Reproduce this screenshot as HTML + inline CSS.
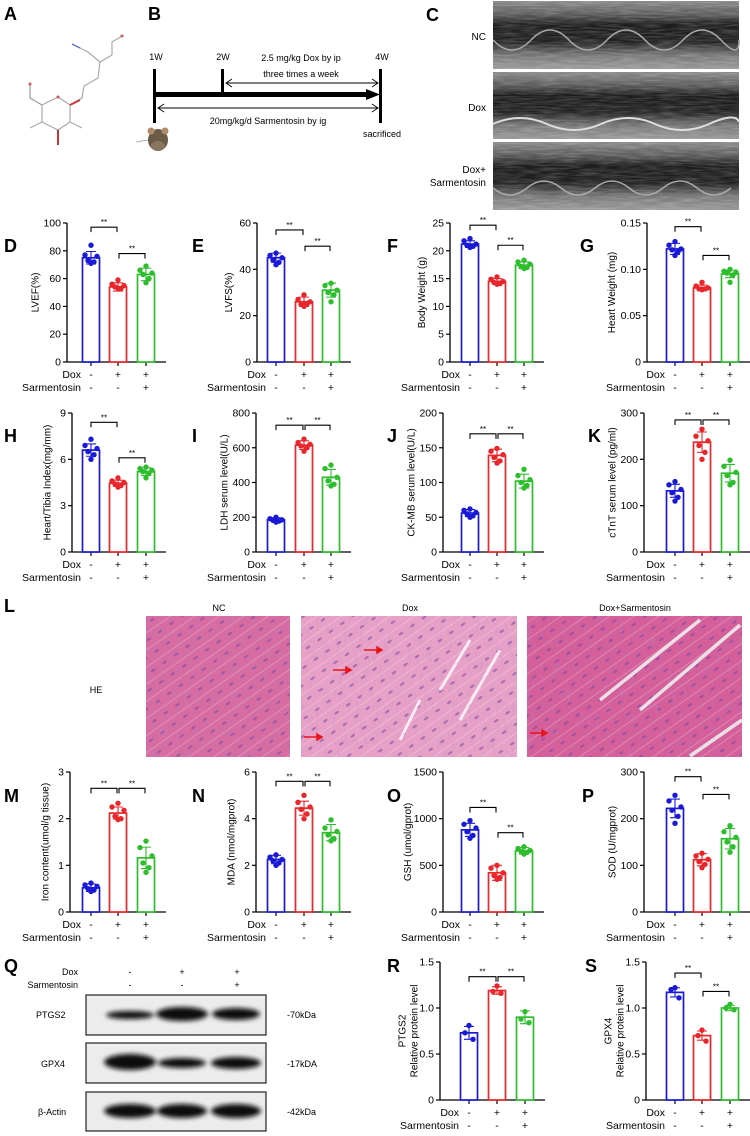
<!DOCTYPE html>
<html><head><meta charset="utf-8">
<style>
html,body{margin:0;padding:0;background:#fff;}
svg{display:block;font-family:"Liberation Sans",Arial,sans-serif;}
</style></head>
<body>
<svg id="fig" width="750" height="1136" viewBox="0 0 750 1136" xmlns="http://www.w3.org/2000/svg">
<defs>
  <linearGradient id="echoG" x1="0" y1="0" x2="0" y2="1">
    <stop offset="0" stop-color="#8a8a8a"/><stop offset="0.2" stop-color="#5a5a5a"/>
    <stop offset="0.35" stop-color="#1c1c1c"/><stop offset="0.6" stop-color="#222"/>
    <stop offset="0.8" stop-color="#777"/><stop offset="1" stop-color="#999"/>
  </linearGradient>
  <filter id="echoNoise" x="0" y="0" width="100%" height="100%">
    <feTurbulence type="fractalNoise" baseFrequency="0.05 0.6" numOctaves="2" seed="3"/>
    <feColorMatrix type="matrix" values="0 0 0 0 1  0 0 0 0 1  0 0 0 0 1  0.9 0 0 0 -0.3"/>
  </filter>
  <filter id="heNoise" x="0" y="0" width="100%" height="100%">
    <feTurbulence type="fractalNoise" baseFrequency="0.25 0.08" numOctaves="2" seed="7"/>
    <feColorMatrix type="matrix" values="0 0 0 0 0.45  0 0 0 0 0.25  0 0 0 0 0.6  1.6 0 0 0 -0.85"/>
  </filter>
  <pattern id="fibers" width="14" height="14" patternUnits="userSpaceOnUse" patternTransform="rotate(-35)">
    <rect width="14" height="1" fill="rgba(255,255,255,0.25)"/>
    <ellipse cx="7" cy="7" rx="2.6" ry="1.1" fill="#7a4aa0" opacity="0.6"/>
  </pattern>
  <filter id="blur2"><feGaussianBlur stdDeviation="2.5"/></filter>
</defs>

<!-- Panel letters -->
<g font-weight="bold" font-size="18" fill="#000">
  <text x="4" y="20">A</text>
  <text x="148" y="20">B</text>
  <text x="426" y="21">C</text>
  <text x="4" y="252">D</text>
  <text x="192" y="252">E</text>
  <text x="387" y="252">F</text>
  <text x="580" y="252">G</text>
  <text x="4" y="442">H</text>
  <text x="192" y="442">I</text>
  <text x="387" y="442">J</text>
  <text x="588" y="442">K</text>
  <text x="4" y="612">L</text>
  <text x="4" y="802">M</text>
  <text x="192" y="802">N</text>
  <text x="387" y="802">O</text>
  <text x="582" y="802">P</text>
  <text x="4" y="972">Q</text>
  <text x="387" y="972">R</text>
  <text x="585" y="972">S</text>
</g>

<!-- A: chemical structure -->
<g stroke-width="1.2" fill="none">
  <path d="M42 105 L58 97 L70 105 L70 122 L58 130 L42 122 Z" stroke="#aaa"/>
  <path d="M42 105 L30 98 L30 85" stroke="#999"/>
  <path d="M70 105 L82 98 L84 86 L98 78 L100 62 L112 55" stroke="#aaa"/>
  <path d="M100 62 L88 52 L80 48" stroke="#aaa"/>
  <path d="M80 48 L72 44" stroke="#6670c8" stroke-width="1.4"/>
  <path d="M112 55 L112 42 L122 36" stroke="#aaa"/>
  <path d="M70 122 L82 128" stroke="#aaa"/>
  <path d="M58 130 L58 145" stroke="#c33" stroke-width="2"/>
  <path d="M42 122 L30 128" stroke="#aaa"/>
  <path d="M70 105 L80 100" stroke="#c33" stroke-width="2"/>
  <circle cx="58" cy="97" r="1.5" fill="#d55" stroke="none"/>
  <circle cx="30" cy="84" r="1.5" fill="#d55" stroke="none"/>
  <circle cx="122" cy="36" r="1.5" fill="#d55" stroke="none"/>
</g>

<!-- B: timeline -->
<g font-size="9" fill="#000">
  <text x="156" y="60" text-anchor="middle">1W</text>
  <text x="223" y="60" text-anchor="middle">2W</text>
  <text x="382" y="60" text-anchor="middle">4W</text>
  <text x="301" y="61" text-anchor="middle">2.5 mg/kg Dox by ip</text>
  <text x="301" y="77" text-anchor="middle">three times a week</text>
  <text x="268" y="124" text-anchor="middle">20mg/kg/d Sarmentosin by ig</text>
  <text x="382" y="137" text-anchor="middle">sacrificed</text>
  <rect x="153" y="69" width="3" height="54" fill="#000"/>
  <rect x="221" y="69" width="3" height="24" fill="#000"/>
  <rect x="379" y="69" width="3" height="54" fill="#000"/>
  <rect x="156" y="92" width="212" height="5" fill="#000"/>
  <path d="M366 89 L380 94.5 L366 100 Z" fill="#000"/>
  <g stroke="#000" stroke-width="0.9" fill="none">
    <line x1="226" y1="83" x2="378" y2="83"/><path d="M232 79 L226 83 L232 87"/><path d="M372 79 L378 83 L372 87"/>
    <line x1="158" y1="108" x2="378" y2="108"/><path d="M164 104 L158 108 L164 112"/><path d="M372 104 L378 108 L372 112"/>
  </g>
  <g>
    <ellipse cx="158" cy="140" rx="10" ry="11" fill="#6b5a45"/>
    <circle cx="151" cy="131" r="3.5" fill="#b08a6a"/><circle cx="165" cy="131" r="3.5" fill="#b08a6a"/>
    <ellipse cx="158" cy="146" rx="7" ry="5" fill="#8a7560"/>
    <line x1="148" y1="140" x2="136" y2="142" stroke="#999" stroke-width="0.8"/>
  </g>
</g>

<!-- C: echo images -->
<g>
  <g font-size="10" fill="#000" text-anchor="end">
    <text x="486" y="40">NC</text>
    <text x="486" y="111">Dox</text>
    <text x="486" y="173">Dox+</text>
    <text x="486" y="186">Sarmentosin</text>
  </g>
  <g>
    <rect x="493" y="1" width="246" height="68" fill="url(#echoG)"/>
    <rect x="493" y="1" width="246" height="68" filter="url(#echoNoise)" opacity="0.45"/>
    <path d="M493 40 Q512 60 531 40 T569 40 T607 40 T645 40 T683 40 T721 40 T739 40" stroke="#aaa" stroke-width="1.5" fill="none"/>
  </g>
  <g>
    <rect x="493" y="72" width="246" height="67" fill="url(#echoG)"/>
    <rect x="493" y="72" width="246" height="67" filter="url(#echoNoise)" opacity="0.45"/>
    <path d="M493 124 Q520 112 547 124 T601 124 T655 124 T709 124 T739 122" stroke="#ddd" stroke-width="2" fill="none"/>
  </g>
  <g>
    <rect x="493" y="142" width="246" height="68" fill="url(#echoG)"/>
    <rect x="493" y="142" width="246" height="68" filter="url(#echoNoise)" opacity="0.45"/>
    <path d="M493 188 Q510 202 527 188 T561 188 T595 188 T629 188 T663 188 T697 188 T731 188" stroke="#aaa" stroke-width="1.5" fill="none"/>
  </g>
</g>

<!-- L: HE histology -->
<g>
  <g font-size="9" fill="#000" text-anchor="middle">
    <text x="219" y="611">NC</text>
    <text x="410" y="611">Dox</text>
    <text x="635" y="611">Dox+Sarmentosin</text>
    <text x="96" y="693">HE</text>
  </g>
  <g>
    <rect x="146" y="616" width="144" height="141" fill="#d66ca2"/>
    <rect x="146" y="616" width="144" height="141" fill="url(#fibers)"/>
    <rect x="146" y="616" width="144" height="141" filter="url(#heNoise)" opacity="0.5"/>
  </g>
  <g>
    <rect x="301" y="616" width="216" height="141" fill="#e7a0c6"/>
    <rect x="301" y="616" width="216" height="141" fill="url(#fibers)"/>
    <rect x="301" y="616" width="216" height="141" filter="url(#heNoise)" opacity="0.4"/>
    <path d="M470 640 L440 690 M500 650 L460 720 M420 700 L400 740" stroke="#fff" stroke-width="3" opacity="0.8"/>
  </g>
  <g>
    <rect x="527" y="616" width="215" height="141" fill="#d45f9a"/>
    <rect x="527" y="616" width="215" height="141" fill="url(#fibers)"/>
    <rect x="527" y="616" width="215" height="141" filter="url(#heNoise)" opacity="0.5"/>
    <path d="M740 625 L640 710 M700 620 L600 700 M742 720 L690 756" stroke="#eee" stroke-width="3.5" opacity="0.9"/>
  </g>
  <g stroke="#e8141c" stroke-width="1.5" fill="#e8141c">
    <line x1="364" y1="650" x2="377" y2="650"/><path d="M377 647 L382 650 L377 653Z"/>
    <line x1="333" y1="670" x2="346" y2="670"/><path d="M346 667 L351 670 L346 673Z"/>
    <line x1="304" y1="737" x2="317" y2="737"/><path d="M317 734 L322 737 L317 740Z"/>
    <line x1="530" y1="733" x2="542" y2="733"/><path d="M542 730 L547 733 L542 736Z"/>
  </g>
</g>

<!-- Q: western blot -->
<g font-size="9" fill="#000">
  <text x="78" y="975" text-anchor="end">Dox</text>
  <text x="78" y="988" text-anchor="end">Sarmentosin</text>
  <text x="130" y="975" text-anchor="middle">-</text><text x="182" y="975" text-anchor="middle">+</text><text x="237" y="975" text-anchor="middle">+</text>
  <text x="130" y="988" text-anchor="middle">-</text><text x="182" y="988" text-anchor="middle">-</text><text x="237" y="988" text-anchor="middle">+</text>
  <text x="36" y="1018">PTGS2</text>
  <text x="41" y="1067">GPX4</text>
  <text x="38" y="1115">β-Actin</text>
  <text x="287" y="1018">-70kDa</text>
  <text x="287" y="1067">-17kDA</text>
  <text x="287" y="1115">-42kDa</text>
  <g stroke="#222" stroke-width="1.2" fill="#ececec">
    <rect x="86" y="995" width="180" height="40"/>
    <rect x="86" y="1043" width="180" height="40"/>
    <rect x="86" y="1092" width="180" height="39"/>
  </g>
  <g fill="#111" filter="url(#blur2)">
    <ellipse cx="130" cy="1015" rx="24" ry="4"/>
    <ellipse cx="182" cy="1014" rx="26" ry="7"/>
    <ellipse cx="236" cy="1014" rx="24" ry="6"/>
    <ellipse cx="130" cy="1062" rx="26" ry="8"/>
    <ellipse cx="182" cy="1063" rx="24" ry="5"/>
    <ellipse cx="236" cy="1063" rx="25" ry="6"/>
    <ellipse cx="130" cy="1111" rx="26" ry="7"/>
    <ellipse cx="182" cy="1111" rx="25" ry="7"/>
    <ellipse cx="236" cy="1111" rx="25" ry="7"/>
  </g>
</g>

<g id="charts"></g>
</svg>

<script>
// ---- chart data ----
const groups = ['NC', 'Dox', 'Dox+Sarmentosin'];
const doxSigns = ['-', '+', '+'];
const sarmSigns = ['-', '-', '+'];

const lvefMeans = [75, 54, 63];
const lvefSd = [4.5, 3, 4.5];
const lvefPts = [[84, 77, 76, 73, 72, 71], [59, 56, 55, 54, 53, 53], [69, 66, 64, 63, 60, 57]];
const lvefTicks = ['0', '20', '40', '60', '80', '100'];

const lvfsMeans = [45, 26, 31];
const lvfsSd = [2, 2, 3];
const lvfsPts = [[47, 46, 45, 44, 43, 42], [29, 27, 26, 25, 25, 24], [34, 33, 31, 30, 29, 26]];
const lvfsTicks = ['0', '20', '40', '60'];

const bwMeans = [21.2, 14.5, 17.4];
const bwSd = [0.6, 0.5, 0.6];
const bwPts = [[22.2, 21.8, 21.2, 21.0, 20.8, 20.6], [15.3, 14.9, 14.5, 14.3, 14.1, 14.0], [18.3, 18.0, 17.6, 17.2, 17.0, 16.8]];
const bwTicks = ['0', '5', '10', '15', '20', '25'];

const hwMeans = [0.122, 0.080, 0.095];
const hwSd = [0.006, 0.003, 0.004];
const hwPts = [[0.130, 0.126, 0.122, 0.121, 0.119, 0.115], [0.086, 0.082, 0.080, 0.079, 0.079, 0.078], [0.100, 0.098, 0.097, 0.096, 0.094, 0.086]];
const hwTicks = ['0', '0.05', '0.10', '0.15'];

const htiMeans = [6.6, 4.45, 5.2];
const htiSd = [0.4, 0.2, 0.25];
const htiPts = [[7.3, 6.9, 6.7, 6.5, 6.3, 6.0], [4.8, 4.6, 4.5, 4.4, 4.3, 4.2], [5.5, 5.4, 5.3, 5.2, 5.1, 4.8]];
const htiTicks = ['0', '3', '6', '9'];

const ldhMeans = [185, 615, 430];
const ldhSd = [12, 25, 45];
const ldhPts = [[200, 192, 185, 182, 178, 172], [650, 630, 620, 610, 600, 580], [500, 480, 430, 410, 390, 380]];
const ldhTicks = ['0', '200', '400', '600', '800'];

const ckMeans = [56, 139, 102];
const ckSd = [5, 9, 10];
const ckPts = [[62, 60, 57, 55, 52, 50], [149, 145, 140, 136, 131, 128], [119, 110, 104, 100, 96, 92]];
const ckTicks = ['0', '50', '100', '150', '200'];

const ctntMeans = [132, 237, 170];
const ctntSd = [14, 22, 19];
const ctntPts = [[152, 145, 135, 128, 118, 110], [265, 250, 240, 230, 215, 200], [198, 185, 172, 165, 150, 145]];
const ctntTicks = ['0', '100', '200', '300'];

const ironMeans = [0.52, 2.12, 1.16];
const ironSd = [0.08, 0.13, 0.23];
const ironPts = [[0.62, 0.58, 0.55, 0.50, 0.47, 0.44], [2.33, 2.25, 2.18, 2.05, 2.00, 1.98], [1.52, 1.38, 1.20, 1.05, 0.95, 0.85]];
const ironTicks = ['0', '1', '2', '3'];

const mdaMeans = [2.25, 4.45, 3.4];
const mdaSd = [0.18, 0.3, 0.35];
const mdaPts = [[2.45, 2.35, 2.25, 2.20, 2.10, 2.00], [5.0, 4.7, 4.5, 4.4, 4.2, 4.0], [3.95, 3.6, 3.45, 3.3, 3.15, 3.05]];
const mdaTicks = ['0', '2', '4', '6'];

const gshMeans = [880, 420, 655];
const gshSd = [70, 80, 35];
const gshPts = [[980, 940, 900, 860, 820, 790], [500, 470, 420, 390, 370, 350], [700, 680, 660, 650, 640, 620]];
const gshTicks = ['0', '500', '1000', '1500'];

const sodMeans = [222, 112, 157];
const sodSd = [20, 13, 22];
const sodPts = [[250, 238, 225, 218, 205, 190], [126, 120, 113, 108, 102, 95], [185, 172, 160, 150, 140, 128]];
const sodTicks = ['0', '100', '200', '300'];

const ptgsMeans = [0.73, 1.19, 0.90];
const ptgsSd = [0.07, 0.04, 0.07];
const ptgsPts = [[0.81, 0.73, 0.66], [1.24, 1.18, 1.16], [0.96, 0.88, 0.84]];
const ptgsTicks = ['0', '0.5', '1.0', '1.5'];

const gpxMeans = [1.17, 0.70, 1.00];
const gpxSd = [0.05, 0.05, 0.03];
const gpxPts = [[1.22, 1.20, 1.11], [0.76, 0.70, 0.64], [1.04, 1.00, 0.98]];
const gpxTicks = ['0', '0.5', '1.0', '1.5'];

// significance brackets: [groupA, groupB, level]
const lvefSig = [[0, 1, 97], [1, 2, 78]];
const lvfsSig = [[0, 1, 57], [1, 2, 50]];
const bwSig = [[0, 1, 24.6], [1, 2, 21]];
const hwSig = [[0, 1, 0.146], [1, 2, 0.115]];
const htiSig = [[0, 1, 8.4], [1, 2, 6.1]];
const ldhSig = [[0, 1, 730], [1, 2, 730]];
const ckSig = [[0, 1, 170], [1, 2, 170]];
const ctntSig = [[0, 1, 285], [1, 2, 285]];
const ironSig = [[0, 1, 2.65], [1, 2, 2.65]];
const mdaSig = [[0, 1, 5.6], [1, 2, 5.6]];
const gshSig = [[0, 1, 1120], [1, 2, 850]];
const sodSig = [[0, 1, 290], [1, 2, 252]];
const ptgsSig = [[0, 1, 1.34], [1, 2, 1.34]];
const gpxSig = [[0, 1, 1.38], [1, 2, 1.18]];

const colors = ['#1a1ad6', '#e8262b', '#2dbd2d'];
const NS = 'http://www.w3.org/2000/svg';
const root = document.getElementById('charts');

function mk(tag, attrs, parent, text) {
  const e = document.createElementNS(NS, tag);
  for (const k in attrs) e.setAttribute(k, attrs[k]);
  if (text !== undefined) e.textContent = text;
  (parent || root).appendChild(e);
  return e;
}

function chart(name, yTitle, means, sd, pts, ticks, sig, ax, bars, top, bottom) {
  const g = mk('g', {});
  
  
  const ymax = parseFloat(ticks[ticks.length - 1]);
  const y = v => bottom - (v / ymax) * (bottom - top);
  const xEnd = bars[2] + 20;
  const yAxis = mk('line', {x1: ax, y1: top, x2: ax, y2: bottom + 0.5, stroke: '#000', 'stroke-width': 1.3}, g);
  
  
  const xAxis = mk('line', {x1: ax, y1: bottom, x2: xEnd, y2: bottom, stroke: '#000', 'stroke-width': 1.3}, g);
  
  
  let maxChars = 0;
  ticks.forEach(t => {
    maxChars = Math.max(maxChars, t.length);
    const ty = y(parseFloat(t));
    mk('line', {x1: ax - 4, y1: ty, x2: ax, y2: ty, stroke: '#000', 'stroke-width': 1.2}, g);
    const tl = mk('text', {x: ax - 6, y: ty + 3.5, 'font-size': 10.5, 'text-anchor': 'end'}, g, t);
    
    
  });
  const tx = ax - 18 - maxChars * 3.5;
  const yt = mk('text', {x: 0, y: 0, 'font-size': 10, 'text-anchor': 'middle',
    transform: `translate(${tx},${(top + bottom) / 2}) rotate(-90)`}, g, '');
  
  
  const lines = yTitle.split('\n');
  lines.forEach((l, i) => {
    mk('tspan', {x: 0, dy: i === 0 ? -(lines.length - 1) * 6 : 12}, yt, l);
  });
  means.forEach((m, i) => {
    const cx = bars[i], c = colors[i], w = 17;
    mk('line', {x1: cx, y1: bottom, x2: cx, y2: bottom + 4, stroke: '#000', 'stroke-width': 1.2}, g);
    const b = mk('rect', {x: cx - w / 2, y: y(m), width: w, height: bottom - y(m), fill: '#fff', stroke: c, 'stroke-width': 1.7}, g);
    
    
    const eb = mk('path', {d: `M${cx} ${y(m + sd[i])} V${y(m - sd[i])} M${cx - 5} ${y(m + sd[i])} H${cx + 5} M${cx - 5} ${y(m - sd[i])} H${cx + 5}`,
      stroke: c, 'stroke-width': 1.1, fill: 'none'}, g);
    
    
    const n = pts[i].length;
    pts[i].forEach((v, j) => {
      const off = n === 3 ? [0, -4, 4][j] : [0, -6, 6, -3, 3, 0][j];
      const p = mk('circle', {cx: cx + off, cy: y(v), r: 2.7, fill: c}, g);
      
      
    });
    const d1 = mk('text', {x: cx, y: bottom + 16, 'font-size': 10.5, 'text-anchor': 'middle'}, g, doxSigns[i]);
    
    
    const s1 = mk('text', {x: cx, y: bottom + 29, 'font-size': 10.5, 'text-anchor': 'middle'}, g, sarmSigns[i]);
    
    
  });
  const dl = mk('text', {x: bars[0] - 10, y: bottom + 16, 'font-size': 10.5, 'text-anchor': 'end'}, g, 'Dox');
  
  
  const sl = mk('text', {x: bars[0] - 10, y: bottom + 29, 'font-size': 10.5, 'text-anchor': 'end'}, g, 'Sarmentosin');
  
  
  sig.forEach(s => {
    const x1 = bars[s[0]] + (s[0] === 0 ? 0 : 1), x2 = bars[s[1]] - 1, sy = y(s[2]);
    const br = mk('path', {d: `M${x1} ${sy + 5} V${sy} H${x2} V${sy + 5}`, stroke: '#000', 'stroke-width': 1.1, fill: 'none'}, g);
    
    
    const st = mk('text', {x: (x1 + x2) / 2, y: sy - 2, 'font-size': 8, 'text-anchor': 'middle'}, g, '**');
    
    
  });
}

const c1 = [91, 118, 146], c2 = [276, 304, 331], c3 = [470, 497, 524], c4 = [675, 702, 730];
chart('chart-lvef', 'LVEF(%)', lvefMeans, lvefSd, lvefPts, lvefTicks, lvefSig, 67, c1, 223, 362);
chart('chart-lvfs', 'LVFS(%)', lvfsMeans, lvfsSd, lvfsPts, lvfsTicks, lvfsSig, 257, c2, 223, 362);
chart('chart-body-weight', 'Body Weight (g)', bwMeans, bwSd, bwPts, bwTicks, bwSig, 450, c3, 223, 362);
chart('chart-heart-weight', 'Heart Weight (mg)', hwMeans, hwSd, hwPts, hwTicks, hwSig, 647, c4, 223, 362);
chart('chart-heart-tibia', 'Heart/Tibia Index(mg/mm)', htiMeans, htiSd, htiPts, htiTicks, htiSig, 72, c1, 413, 552);
chart('chart-ldh', 'LDH serum level(U/L)', ldhMeans, ldhSd, ldhPts, ldhTicks, ldhSig, 256, c2, 413, 552);
chart('chart-ckmb', 'CK-MB serum level(U/L)', ckMeans, ckSd, ckPts, ckTicks, ckSig, 443, c3, 413, 552);
chart('chart-ctnt', 'cTnT serum level (pg/ml)', ctntMeans, ctntSd, ctntPts, ctntTicks, ctntSig, 644, c4, 413, 552);
chart('chart-iron', 'Iron content(umol/g tissue)', ironMeans, ironSd, ironPts, ironTicks, ironSig, 70, c1, 772, 912);
chart('chart-mda', 'MDA (nmol/mgprot)', mdaMeans, mdaSd, mdaPts, mdaTicks, mdaSig, 256, c2, 772, 912);
chart('chart-gsh', 'GSH  (umol/gprot)', gshMeans, gshSd, gshPts, gshTicks, gshSig, 443, c3, 772, 912);
chart('chart-sod', 'SOD (U/mgprot)', sodMeans, sodSd, sodPts, sodTicks, sodSig, 644, c4, 772, 912);
chart('chart-ptgs2', 'PTGS2\nRelative protein level', ptgsMeans, ptgsSd, ptgsPts, ptgsTicks, ptgsSig, 440, [469, 497, 525], 962, 1100);
chart('chart-gpx4', 'GPX4\nRelative protein level', gpxMeans, gpxSd, gpxPts, gpxTicks, gpxSig, 646, [675, 702, 730], 962, 1100);
</script>
</body></html>
